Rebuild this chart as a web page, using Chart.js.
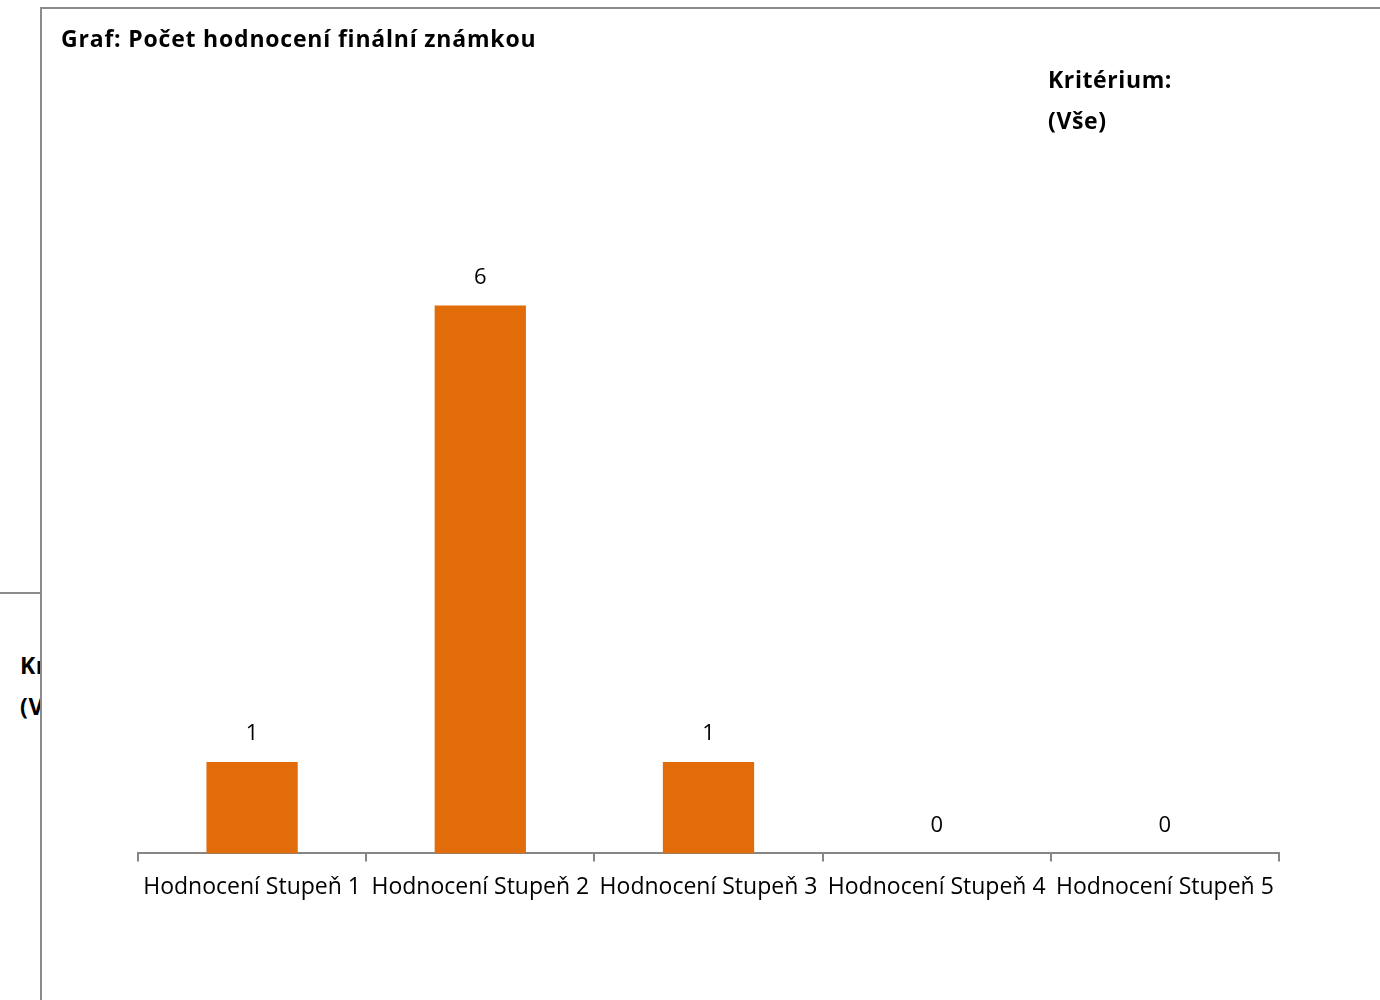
<!DOCTYPE html>
<html>
<head>
<meta charset="utf-8">
<script src="https://cdn.jsdelivr.net/npm/chart.js@4"></script>
<style>
  body { margin: 0; background: #fff; width: 1380px; height: 1000px; overflow: hidden; position: relative; font-family: "Open Sans", sans-serif; }
  .back-line { position: absolute; left: 0; top: 592px; width: 40px; height: 2px; background: #8c8c8c; }
  .back-txt { position: absolute; left: 20px; font-weight: bold; font-size: 23px; letter-spacing: 0.6px; color: #000; }
  .frame { position: absolute; left: 40px; top: 7px; width: 1400px; height: 1100px; border: 2px solid #8c8c8c; background: #fff; }
  .title { position: absolute; left: 19px; top: 13px; font-weight: bold; font-size: 23px; letter-spacing: 0.8px; color: #000; white-space: nowrap; }
  .krit { position: absolute; left: 1006px; font-weight: bold; font-size: 23px; letter-spacing: 0.6px; color: #000; }
  #wrap { position: absolute; left: 0; top: 0; width: 1340px; height: 992px; }
</style>
</head>
<body>
<div class="back-line"></div>
<div class="back-txt" style="top:649px">Kritérium:</div>
<div class="back-txt" style="top:690px">(Vše)</div>
<div class="frame">
  <div id="wrap"><canvas id="myChart"></canvas></div>
  <div class="title">Graf: Počet hodnocení finální známkou</div>
  <div class="krit" style="top:54px">Kritérium:</div>
  <div class="krit" style="top:95px">(Vše)</div>
</div>
<script>
const categories = ["Hodnocení Stupeň 1", "Hodnocení Stupeň 2", "Hodnocení Stupeň 3", "Hodnocení Stupeň 4", "Hodnocení Stupeň 5"]
const counts = [1, 6, 1, 0, 0]

// hodnoty nad sloupci
const valueLabels = {
  id: "valueLabels",
  afterDatasetsDraw(chart) {
    const ctx = chart.ctx
    const meta = chart.getDatasetMeta(0)
    ctx.save()
    ctx.font = "22px 'Open Sans', sans-serif"
    ctx.fillStyle = "#000"
    ctx.textAlign = "center"
    ctx.textBaseline = "middle"
    meta.data.forEach((bar, i) => {
      ctx.fillText(counts[i], bar.x, bar.y - 28)
    })
    ctx.restore()
  }
}

const ctx = document.getElementById("myChart").getContext("2d")
const myChart = new Chart(ctx, {
  type: "bar",
  data: {
    labels: categories,
    datasets: [{
      data: counts,
      backgroundColor: "#E36C0A",
      borderWidth: 0,
      barPercentage: 0.4,
      categoryPercentage: 1
    }]
  },
  options: {
    responsive: true,
    maintainAspectRatio: false,
    animation: false,
    layout: { padding: { left: 96, right: 103, top: 114, bottom: 88 } },
    plugins: { legend: { display: false }, tooltip: { enabled: false }, title: { display: false } },
    scales: {
      x: {
        offset: true,
        grid: { offset: true, drawOnChartArea: false, drawTicks: true, tickLength: 8, color: "#868686", lineWidth: 2 },
        border: { display: true, color: "#868686", width: 2 },
        ticks: { color: "#000", font: { family: "'Open Sans', sans-serif", size: 23 }, padding: 12, maxRotation: 0, autoSkip: false }
      },
      y: {
        display: false,
        min: 0,
        max: 8
      }
    }
  },
  plugins: [valueLabels]
})
</script>
</body>
</html>
